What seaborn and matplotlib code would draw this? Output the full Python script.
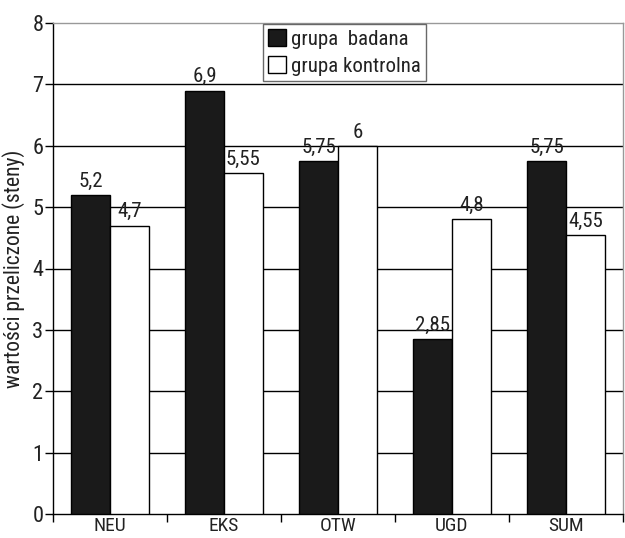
import matplotlib
matplotlib.use("Agg")
import matplotlib.pyplot as plt
import seaborn as sns
import pandas as pd

categories = ['NEU', 'EKS', 'OTW', 'UGD', 'SUM']
badana = [5.2, 6.9, 5.75, 2.85, 5.75]
kontrolna = [4.7, 5.55, 6, 4.8, 4.55]
series_names = ['grupa  badana', 'grupa kontrolna']
yticks = [0, 1, 2, 3, 4, 5, 6, 7, 8]

sns.set_theme(style="white")
plt.rcParams['font.family'] = ['Roboto Condensed', 'DejaVu Sans']

df = pd.DataFrame({
    'cat': categories * 2,
    'val': badana + kontrolna,
    'grupa': [series_names[0]] * len(categories) + [series_names[1]] * len(categories),
})

TXT = '#222222'
fig = plt.figure(figsize=(6.25, 5.38), dpi=100)
ax = fig.add_axes([53 / 625, 24 / 538, 570 / 625, 491 / 538])
sns.barplot(data=df, x='cat', y='val', hue='grupa', order=categories,
            hue_order=series_names, palette=['#1a1a1a', 'white'],
            edgecolor='black', linewidth=1.0, width=0.68, ax=ax, zorder=3,
            legend=True)

for cont in ax.containers:
    labels = [f"{v:g}".replace('.', ',') for v in cont.datavalues]
    ax.bar_label(cont, labels=labels, padding=3, fontsize=15, color=TXT, zorder=4)

ax.set_ylim(0, 8)
ax.set_xlim(-0.5, len(categories) - 0.5)
ax.set_yticks(yticks)
ax.set_yticklabels([str(t) for t in yticks], fontsize=16, color=TXT)
ax.set_xticks(range(len(categories)))
ax.set_xticklabels(categories, fontsize=14, color=TXT)
ax.set_xticks([i - 0.5 for i in range(len(categories) + 1)], minor=True)
ax.tick_params(axis='x', which='major', length=0, pad=2.5)
ax.tick_params(axis='x', which='minor', length=6, width=1, color='black', direction='out', bottom=True)
ax.tick_params(axis='y', length=6, width=1, color='black', direction='out', left=True, pad=1)

for y in yticks[1:-1]:
    ax.axhline(y, color='black', linewidth=1, zorder=1)

ax.spines['left'].set_color('black')
ax.spines['bottom'].set_color('black')
ax.spines['top'].set_color('#999999')
ax.spines['right'].set_color('#999999')
for s in ax.spines.values():
    s.set_linewidth(1)

ax.set_xlabel('')
ax.set_ylabel('wartości przeliczone (steny)', fontsize=15.5, color=TXT, labelpad=5)

leg = ax.legend(loc='upper left', bbox_to_anchor=(263 / 625, 1 - 24 / 538),
                bbox_transform=fig.transFigure, frameon=True, fancybox=False,
                fontsize=15, handlelength=0.85, handleheight=0.85, handletextpad=0.25,
                borderpad=0.25, labelspacing=0.35, borderaxespad=0.0)
leg.get_frame().set_edgecolor('#444444')
leg.get_frame().set_linewidth(1)
leg.set_zorder(5)
for h in leg.legend_handles:
    h.set_edgecolor('black')
for t in leg.get_texts():
    t.set_color(TXT)

fig.savefig('out.png', dpi=100)
